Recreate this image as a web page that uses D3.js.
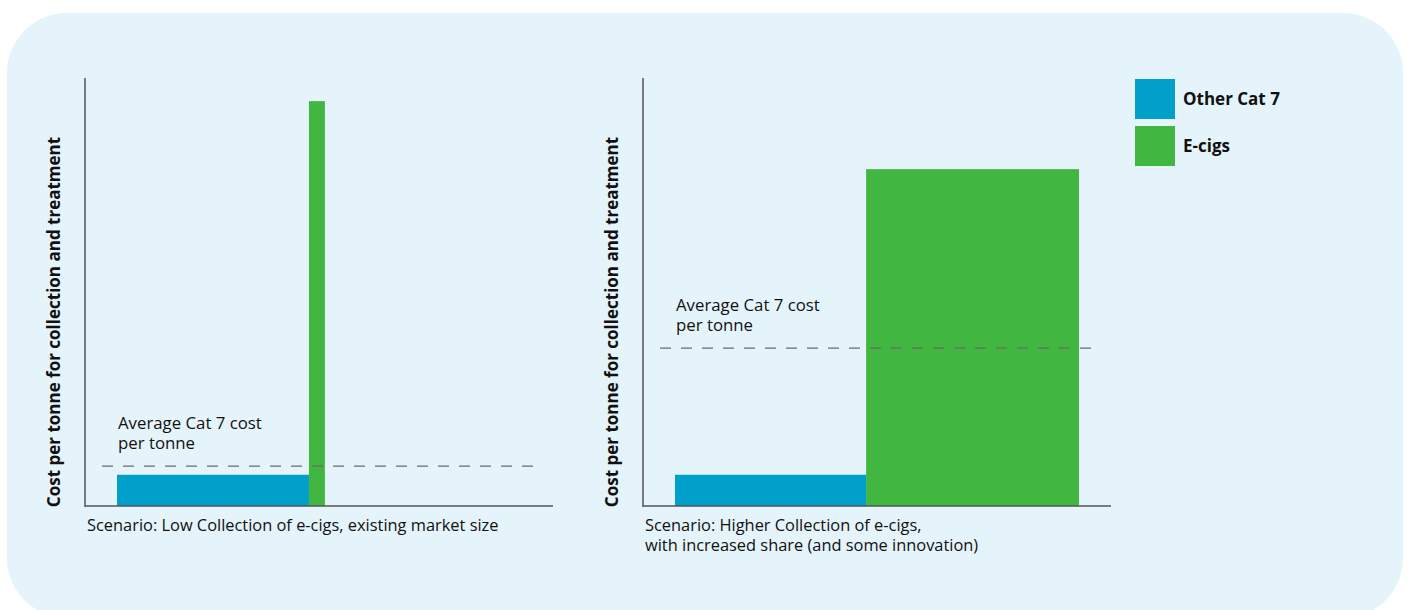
<!DOCTYPE html>
<html><head><meta charset="utf-8">
<script src="https://cdn.jsdelivr.net/npm/d3@7"></script>
<style>
html,body{margin:0;padding:0;background:#fff;}
svg{display:block;}
text{font-family:"Open Sans",Lato,sans-serif;fill:#111;}
</style></head>
<body>
<svg id="c" width="1408" height="610"></svg>
<script>
// ---- data ----
const categories = ["Other Cat 7", "E-cigs"];
const colors = ["#00A0CB", "#41B641"];
const scenarioLines = [["Scenario: Low Collection of e-cigs, existing market size"],
                       ["Scenario: Higher Collection of e-cigs,", "with increased share (and some innovation)"]];
// tonnage (bar widths, relative units) per scenario
const lowTonnage = [45.7, 3.8];
const highTonnage = [45.5, 50.7];
// cost per tonne (bar heights, relative units) per scenario
const lowCost = [7.3, 94.6];
const highCost = [7.3, 78.7];
const averageCost = [9.3, 36.9];
const yLabel = "Cost per tonne for collection and treatment";
const avgLabel = ["Average Cat 7 cost", "per tonne"];

const svg = d3.select("#c");
svg.append("rect").attr("x",7).attr("y",13).attr("width",1396).attr("height",605)
  .attr("rx",60).attr("ry",60).attr("fill","#E5F4FA");

const panels = [
  {x0:85, tonnage:lowTonnage, cost:lowCost, avg:averageCost[0], lines:scenarioLines[0], dash:[17,453]},
  {x0:643, tonnage:highTonnage, cost:highCost, avg:averageCost[1], lines:scenarioLines[1], dash:[17,452]}
];
const axisTop = 78, axisBottom = 506, axisW = 468;

panels.forEach((p) => {
  const g = svg.append("g");
  const x = d3.scaleLinear().domain([0,100]).range([p.x0+32, p.x0+32+420]);
  const y = d3.scaleLinear().domain([0,100]).range([axisBottom, axisTop]);
  let acc = 0;
  const bars = p.tonnage.map((t,i)=>{const b={start:acc,end:acc+t,cost:p.cost[i],i}; acc+=t; return b;});
  g.selectAll("rect.bar").data(bars).join("rect")
    .attr("x", d=>x(d.start)).attr("width", d=>x(d.end)-x(d.start))
    .attr("y", d=>y(d.cost)).attr("height", d=>y(0)-y(d.cost))
    .attr("fill", d=>colors[d.i]);
  g.append("line").attr("x1",p.x0).attr("x2",p.x0).attr("y1",axisTop).attr("y2",axisBottom+1)
    .attr("stroke","#555").attr("stroke-width",1.5);
  g.append("line").attr("x1",p.x0).attr("x2",p.x0+axisW).attr("y1",axisBottom).attr("y2",axisBottom)
    .attr("stroke","#555").attr("stroke-width",1.5);
  g.append("line").attr("x1",p.x0+p.dash[0]).attr("x2",p.x0+p.dash[1])
    .attr("y1",y(p.avg)).attr("y2",y(p.avg))
    .attr("stroke","#6b6b6b").attr("stroke-width",1.3).attr("stroke-dasharray","11,10");
  const t = g.append("text").attr("x",p.x0+33).attr("y",y(p.avg)-37).style("font-size","16.8px");
  avgLabel.forEach((s,k)=>t.append("tspan").attr("x",p.x0+33).attr("dy",k?20:0).text(s));
  const st = g.append("text").attr("x",p.x0+2).attr("y",531).style("font-size","16.4px");
  p.lines.forEach((s,k)=>st.append("tspan").attr("x",p.x0+2).attr("dy",k?20:0).text(s));
  g.append("text").attr("transform",`translate(${p.x0-25},${(137+507)/2}) rotate(-90)`)
    .attr("text-anchor","middle").style("font-size","17px").style("font-weight","700").text(yLabel);
});

const lg = svg.append("g");
categories.forEach((c,i)=>{
  lg.append("rect").attr("x",1135).attr("y",79+i*47).attr("width",40).attr("height",40).attr("fill",colors[i]);
  lg.append("text").attr("x",1183).attr("y",105+i*47).style("font-size","17px").style("font-weight","700").text(c);
});
</script>
</body></html>
